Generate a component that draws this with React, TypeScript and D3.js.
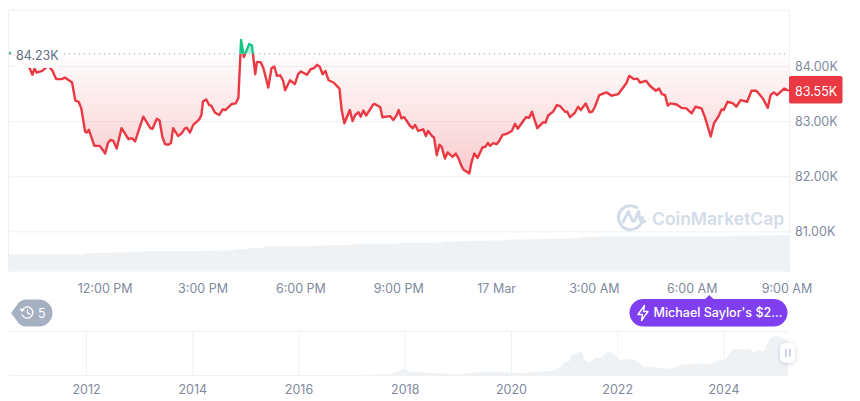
import React from "react";
import * as d3 from "d3";

// minutes after 12:00 PM on 16 Mar
const times = [
  -177, -167, -160, -153, -145, -139, -134, -130, -126, -116, -110, -105, -98, -90, -80, -74, -67, -61, -55, -49, -44, -37, -34, -30, -20, -10,
  0, 5, 10, 15, 21, 30, 43, 49, 55, 70, 83, 87, 95, 100, 105, 110, 116, 121, 125, 134, 141, 146, 150, 156, 162, 173, 177,
  180, 186, 191, 195, 202, 210, 216, 221, 233, 240, 245, 250, 255, 265, 270, 276, 279, 286, 291, 300, 306, 311, 316, 322, 327, 331, 340, 349, 355,
  360, 371, 378, 384, 390, 395, 400, 405, 411, 420, 431, 435, 440, 450, 455, 460, 466, 470, 475, 480, 493, 496, 506, 510, 524, 530, 536,
  540, 545, 550, 561, 566, 570, 576, 585, 590, 594, 602, 605, 610, 615, 619, 625, 630, 639, 645, 650, 656, 660, 670, 674, 679, 685, 694, 699, 704, 708, 714,
  720, 725, 731, 739, 748, 754, 759, 774, 780, 785, 795, 806, 810, 815, 824, 831, 837, 846, 850, 855, 864, 870, 875, 884, 891, 896,
  901, 909, 922, 932, 944, 956, 959, 964, 973, 979, 984, 995, 1002, 1013, 1019, 1024, 1030, 1035, 1040, 1051, 1060, 1069,
  1079, 1086, 1097, 1103, 1114, 1120, 1128, 1134, 1138, 1145, 1155, 1161, 1169, 1181, 1189, 1198, 1210, 1219, 1224, 1230, 1236, 1249, 1258,
];

// price in thousands of USD
const prices = [
  84.25, 84.21, 84.15, 84.08, 84.03, 83.97, 83.85, 83.96, 83.89, 83.92, 83.97, 84.01, 83.94, 83.77, 83.77, 83.8, 83.75, 83.71, 83.38, 83.36, 83.24, 82.82, 82.8, 82.85, 82.56, 82.56,
  82.42, 82.61, 82.67, 82.65, 82.51, 82.88, 82.68, 82.7, 82.64, 83.09, 82.88, 82.87, 83.05, 83.02, 82.73, 82.59, 82.58, 82.61, 82.88, 82.74, 82.79, 82.87, 82.89, 82.8, 82.94, 83.04, 83.12,
  83.37, 83.4, 83.3, 83.29, 83.16, 83.12, 83.22, 83.21, 83.32, 83.33, 83.43, 84.48, 84.17, 84.41, 84.38, 83.86, 84.08, 84.08, 83.97, 83.62, 83.97, 84.0, 83.83, 83.84, 83.75, 83.57, 83.75, 83.68, 83.86,
  83.91, 83.85, 83.95, 83.97, 84.03, 83.99, 83.86, 83.92, 83.75, 83.71, 83.6, 83.21, 82.97, 83.21, 83.01, 83.12, 83.17, 83.09, 83.2, 83.11, 83.31, 83.32, 83.26, 83.08, 83.1, 83.03, 83.11,
  83.21, 83.06, 83.08, 82.92, 82.88, 82.94, 82.83, 82.86, 82.74, 82.83, 82.73, 82.71, 82.39, 82.58, 82.54, 82.33, 82.44, 82.36, 82.42, 82.33, 82.18, 82.12, 82.06, 82.27, 82.42, 82.34, 82.53, 82.54, 82.61, 82.56, 82.61,
  82.59, 82.65, 82.76, 82.78, 82.83, 82.96, 82.87, 83.08, 83.07, 83.18, 82.88, 82.99, 82.98, 83.11, 83.18, 83.3, 83.28, 83.18, 83.18, 83.08, 83.16, 83.27, 83.21, 83.33, 83.17, 83.18,
  83.27, 83.48, 83.53, 83.47, 83.5, 83.66, 83.7, 83.83, 83.77, 83.78, 83.71, 83.74, 83.65, 83.56, 83.6, 83.5, 83.48, 83.29, 83.33, 83.31, 83.25, 83.24,
  83.15, 83.27, 83.24, 83.09, 82.73, 82.97, 83.09, 83.22, 83.21, 83.36, 83.33, 83.27, 83.39, 83.36, 83.56, 83.56, 83.42, 83.25, 83.48, 83.53, 83.48, 83.6, 83.56,
];

const volumes = [
  17.4, 17.4, 17.4, 17.4, 17.4, 18.5, 19, 19.4, 20, 20.4, 20.4, 20.6, 20.6, 21, 21.4, 22.5, 23.8, 25.4, 25.6, 25.8, 26, 26.4, 26.6, 27.6, 28, 28,
  29, 29, 29.2, 30, 30.6, 31, 31.2, 32, 32.4, 32.6, 33, 33.6, 34.6, 35, 35, 35.2, 35.2, 35.4, 35.4, 35.6, 35.6, 35.6, 36, 36, 36.2, 36.5,
];

const basePrice = 84.23;
const lastPrice = 83.55;

const priceTicks = [84, 83, 82, 81];
const timeTicks = [0, 180, 360, 540, 720, 900, 1080, 1260];
const timeLabels = ["12:00 PM", "3:00 PM", "6:00 PM", "9:00 PM", "17 Mar", "3:00 AM", "6:00 AM", "9:00 AM"];

const historyYears = [
  2010.53, 2013.0, 2013.9, 2014.5, 2016, 2017, 2017.5, 2017.8, 2017.97, 2018.1, 2018.5, 2019, 2019.5, 2020, 2020.2, 2020.54, 2020.79, 2020.92,
  2021.01, 2021.07, 2021.14, 2021.23, 2021.32, 2021.39, 2021.48, 2021.58, 2021.67, 2021.76, 2021.86, 2021.95, 2022.05, 2022.17, 2022.3, 2022.39, 2022.49, 2022.61, 2022.74, 2022.93,
  2023.05, 2023.24, 2023.43, 2023.55, 2023.74, 2023.87, 2024.03, 2024.15, 2024.25, 2024.34, 2024.47, 2024.56, 2024.62, 2024.75, 2024.87, 2024.97, 2025.06, 2025.2,
];
const historyPrices = [
  0, 0.1, 0.8, 0.5, 0.5, 1, 2.5, 6, 18, 10, 7, 3.6, 11, 8, 6, 11, 12.5, 22,
  37.7, 36, 57, 60, 64, 40, 36, 48, 47, 60, 65, 53, 42, 45, 42, 36, 22, 24, 21.5, 18,
  21.5, 30, 30, 33, 29, 40, 44, 69, 72, 69, 72, 62, 67, 66, 100, 107, 103, 96,
];
const yearTicks = [2012, 2014, 2016, 2018, 2020, 2022, 2024];

const red = "#ea3943";
const green = "#16c784";
const gridColor = "#eff2f5";
const labelColor = "#808a9d";
const font = "Inter, 'Noto Sans', sans-serif";

export default function App() {
  const x = d3.scaleLinear().domain([-177, 1258]).range([9, 789]);
  const y = d3.scaleLinear().domain([84, 81]).range([66.5, 231.8]);
  const baseY = y(basePrice);
  const points = times.map((t, i) => ({ t, p: prices[i] }));

  const line = d3
    .line<{ t: number; p: number }>()
    .x((d) => x(d.t))
    .y((d) => y(d.p));
  const area = d3
    .area<{ t: number; p: number }>()
    .x((d) => x(d.t))
    .y0(baseY)
    .y1((d) => y(d.p));

  const vol = d3.scaleLinear().domain([0, 40]).range([271.7, 231.7]);
  const volBand = d3
    .scaleBand<number>()
    .domain(volumes.map((_, i) => i))
    .range([9, 789]);

  const yearX = d3.scaleLinear().domain([2012, 2024]).range([86.5, 724]);
  const hist = d3.scaleLinear().domain([0, 105]).range([375.5, 336.5]);
  const histArea = d3
    .area<number>()
    .x((_, i) => yearX(historyYears[i]))
    .y0(375.5)
    .y1((d) => hist(d));

  return (
    <svg
      width={860}
      height={401}
      style={{ position: "absolute", left: 0, top: 0, display: "block", fontFamily: font }}
    >
      <defs>
        <clipPath id="below">
          <rect x={0} y={baseY} width={860} height={300} />
        </clipPath>
        <clipPath id="above">
          <rect x={0} y={0} width={860} height={baseY} />
        </clipPath>
        <linearGradient id="redFill" gradientUnits="userSpaceOnUse" x1={0} x2={0} y1={baseY} y2={175}>
          <stop offset="0%" stopColor={red} stopOpacity={0.01} />
          <stop offset="100%" stopColor={red} stopOpacity={0.26} />
        </linearGradient>
        <linearGradient id="greenFill" gradientUnits="userSpaceOnUse" x1={0} x2={0} y1={40} y2={baseY}>
          <stop offset="0%" stopColor={green} stopOpacity={0.5} />
          <stop offset="100%" stopColor={green} stopOpacity={0.2} />
        </linearGradient>
        <filter id="handleShadow" x="-50%" y="-50%" width="200%" height="200%">
          <feDropShadow dx={0} dy={1} stdDeviation={2} floodColor="#58667e" floodOpacity={0.3} />
        </filter>
      </defs>

      {/* frame and grid */}
      <line x1={8.5} x2={789} y1={10} y2={10} stroke={gridColor} />
      <line x1={8.5} x2={8.5} y1={10} y2={272} stroke={gridColor} />
      <line x1={789.5} x2={789.5} y1={10} y2={272} stroke={gridColor} />
      {priceTicks.map((t) => (
        <line key={t} x1={8.5} x2={789} y1={y(t)} y2={y(t)} stroke={gridColor} />
      ))}

      {/* volume */}
      {volumes.map((v, i) => (
        <rect
          key={i}
          x={volBand(i)}
          y={vol(v)}
          width={volBand.bandwidth()}
          height={vol(0) - vol(v)}
          fill={gridColor}
        />
      ))}

      {/* watermark */}
      <g fill="none" stroke="#d3dce9" strokeWidth={3}>
        <path d="M642.5 217.5 A12 12 0 1 1 637 207.6" strokeLinecap="round" />
        <path d="M623 222 L628.5 211.5 L632 220 Q633.5 223 635 220 L638.5 211.5 L640 219 Q641.5 224 645 221" strokeLinejoin="round" strokeLinecap="round" />
      </g>
      <text x={652} y={224.5} fontSize={17.5} fontWeight={600} fill="#d3dce9">
        CoinMarketCap
      </text>

      {/* price area and line */}
      <g clipPath="url(#below)">
        <path d={area(points) ?? ""} fill="url(#redFill)" />
        <path d={line(points) ?? ""} fill="none" stroke={red} strokeWidth={2.4} strokeLinejoin="round" />
      </g>
      <g clipPath="url(#above)">
        <path d={area(points) ?? ""} fill="url(#greenFill)" />
        <path d={line(points) ?? ""} fill="none" stroke={green} strokeWidth={2.4} strokeLinejoin="round" />
      </g>

      {/* baseline */}
      <line x1={9} x2={789} y1={baseY} y2={baseY} stroke="#9aa3b5" strokeWidth={1} strokeDasharray="1 4" />
      <rect x={11} y={45} width={50} height={23} rx={8} fill="#fff" fillOpacity={0.92} />
      <text x={16} y={55} dominantBaseline="central" fontSize={12.5} fill="#616e85">
        {basePrice.toFixed(2)}K
      </text>

      {/* price axis */}
      {priceTicks.map((t) => (
        <text key={t} x={795} y={y(t)} dominantBaseline="central" fontSize={12.5} fill={labelColor}>
          {t.toFixed(2)}K
        </text>
      ))}
      <rect x={789} y={76} width={53.5} height={27.5} rx={2} fill={red} />
      <text x={795} y={y(lastPrice) + 0.5} dominantBaseline="central" fontSize={12.5} fill="#fff">
        {lastPrice.toFixed(2)}K
      </text>

      {/* time axis */}
      {timeTicks.map((t, i) => (
        <text
          key={t}
          x={Math.min(x(t), 787)}
          y={288}
          textAnchor="middle"
          dominantBaseline="central"
          fontSize={12.5}
          fill={labelColor}
        >
          {timeLabels[i]}
        </text>
      ))}

      {/* history bubble */}
      <path
        d="M11 313 L17 305 Q20 299.5 27 299.5 L39 299.5 A13.5 13.5 0 0 1 39 326.5 L27 326.5 Q20 326.5 17 321 Z"
        fill="#a6b0c3"
      />
      <g fill="none" stroke="#fff" strokeWidth={1.4} strokeLinecap="round" strokeLinejoin="round">
        <path d="M22 310.5 A5.6 5.6 0 1 1 22.2 315" />
        <path d="M20.5 309 L22 311 L24 309.8" />
        <path d="M27.5 309.5 L27.5 312.8 L29.8 314.2" />
      </g>
      <text x={38} y={313} dominantBaseline="central" fontSize={12.5} fill="#fff">
        5
      </text>

      {/* news bubble */}
      <path d="M704.5 299.5 L709.3 295 L714 299.5 Z" fill="#7f3ef0" />
      <rect x={629.5} y={299} width={158} height={27.5} rx={13.75} fill="#7f3ef0" />
      <path
        d="M644.5 305.5 L638 314.5 L642.5 314.5 L641.5 320.5 L648 311.5 L643.5 311.5 Z"
        fill="none"
        stroke="#fff"
        strokeWidth={1.4}
        strokeLinejoin="round"
      />
      <text x={653.5} y={312.5} dominantBaseline="central" fontSize={12.5} fontWeight={500} fill="#fff">
        Michael Saylor's $2...
      </text>

      {/* overview */}
      <line x1={8.5} x2={788} y1={331.5} y2={331.5} stroke={gridColor} />
      <line x1={8.5} x2={788} y1={375.5} y2={375.5} stroke={gridColor} />
      {yearTicks.map((yr) => (
        <line key={yr} x1={yearX(yr)} x2={yearX(yr)} y1={331.5} y2={375} stroke={gridColor} />
      ))}
      <path d={histArea(historyPrices) ?? ""} fill={gridColor} />
      {yearTicks.map((yr) => (
        <text
          key={yr}
          x={yearX(yr)}
          y={389}
          textAnchor="middle"
          dominantBaseline="central"
          fontSize={12.5}
          fill={labelColor}
        >
          {yr}
        </text>
      ))}

      {/* range handle */}
      <rect x={780} y={343} width={15} height={20} rx={6} fill="#fff" filter="url(#handleShadow)" />
      <rect x={785} y={349} width={1.6} height={8} fill="#c3cad6" />
      <rect x={789} y={349} width={1.6} height={8} fill="#c3cad6" />
    </svg>
  );
}
